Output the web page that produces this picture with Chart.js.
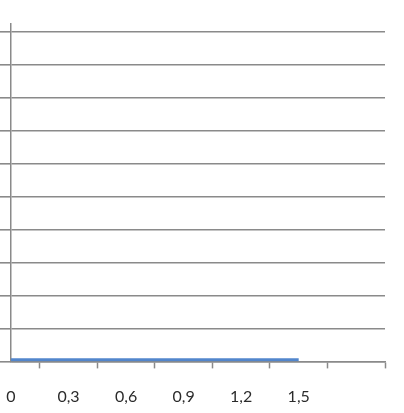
<!DOCTYPE html>
<html>
<head>
<meta charset="utf-8">
<script src="https://cdn.jsdelivr.net/npm/chart.js@4"></script>
<style>
html,body{margin:0;padding:0;background:#fff;}
#wrap{width:404px;height:413px;}
</style>
</head>
<body>
<div id="wrap"><canvas id="c" width="404" height="413"></canvas></div>
<script>
const xValues = [0, 0.3, 0.6, 0.9, 1.2, 1.5];
const xTickLabels = ['0', '0,3', '0,6', '0,9', '1,2', '1,5'];
const yValues = [0.05, 0.05, 0.05, 0.05, 0.05, 0.05];
const yTicks = [0, 1, 2, 3, 4, 5, 6, 7, 8, 9, 10];

const step = 0.3;
const xMax = 1.95;
const gridColor = '#8a8a8a';

const chart = new Chart(document.getElementById('c'), {
  type: 'line',
  data: {
    datasets: [{
      data: xValues.map((x, i) => ({x: x, y: yValues[i]})),
      borderColor: '#5286cc',
      borderWidth: 3,
      pointRadius: 0,
      tension: 0,
      fill: false
    }]
  },
  options: {
    responsive: false,
    animation: false,
    layout: {padding: {left: 0, right: 19, top: 24, bottom: 5}},
    plugins: {legend: {display: false}, tooltip: {enabled: false}},
    scales: {
      x: {
        type: 'linear',
        min: 0,
        max: xMax,
        afterBuildTicks: (scale) => {
          const t = [];
          for (let i = 0; i <= 13; i++) t.push({value: +(i * step / 2).toFixed(2)});
          scale.ticks = t;
        },
        border: {display: true, color: gridColor, width: 1.5},
        grid: {
          drawOnChartArea: false,
          drawTicks: true,
          tickLength: 7,
          tickWidth: 1.5,
          tickColor: (ctx) => (ctx.index % 2 === 1 ? gridColor : 'rgba(0,0,0,0)')
        },
        ticks: {
          autoSkip: false,
          maxRotation: 0,
          padding: 3,
          color: '#2b2b2b',
          font: {family: 'Lato', size: 16, lineHeight: 1.05},
          callback: (v, i) => (i % 2 === 0 && xTickLabels[i / 2] !== undefined ? ['', xTickLabels[i / 2]] : '')
        }
      },
      y: {
        type: 'linear',
        min: 0,
        max: 10.25,
        afterBuildTicks: (scale) => {
          scale.ticks = yTicks.map(v => ({value: v}));
        },
        border: {display: true, color: gridColor, width: 1.5},
        grid: {
          color: gridColor,
          lineWidth: 1.6,
          drawTicks: true,
          tickLength: 11
        },
        ticks: {display: false}
      }
    }
  }
});
</script>
</body>
</html>
